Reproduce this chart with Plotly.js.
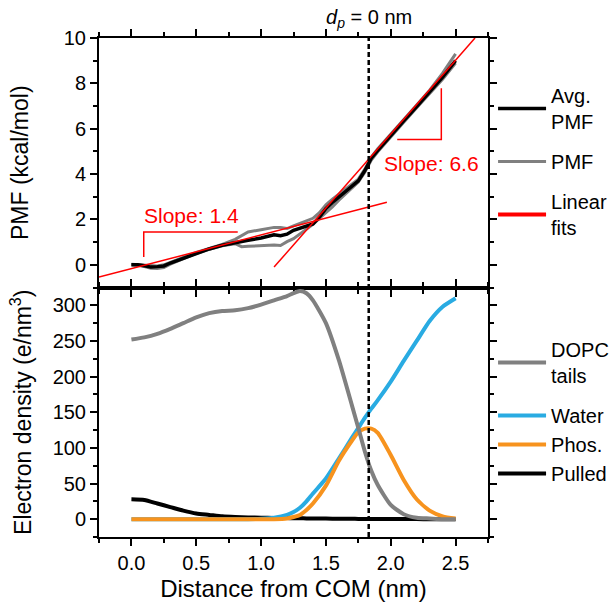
<!DOCTYPE html>
<html>
<head>
<meta charset="utf-8">
<script src="https://cdn.plot.ly/plotly-3.0.1.min.js"></script>
<style>html,body{margin:0;padding:0;background:#fff;}</style>
</head>
<body>
<div id="chart" style="width:613px;height:602px;"></div>
<script>
// ---- PMF panel data ----
const pmfX   = [0,0.05,0.1,0.15,0.2,0.25,0.3,0.4,0.5,0.6,0.7,0.8,0.85,0.9,1.0,1.1,1.15,1.2,1.25,1.3,1.35,1.4,1.45,1.5,1.55,1.6,1.65,1.7,1.75,1.8,1.85,1.9,2.0,2.1,2.2,2.3,2.4,2.5];
const avgPMF = [0.00,0.00,-0.04,-0.10,-0.08,-0.05,0.08,0.30,0.52,0.70,0.86,0.98,1.02,1.08,1.18,1.32,1.28,1.35,1.52,1.62,1.70,1.80,2.10,2.48,2.75,2.98,3.22,3.45,3.70,4.15,4.70,5.05,5.72,6.35,6.98,7.62,8.28,9.00];
const pmfRun1 = [0.02,0.00,-0.02,-0.06,-0.05,0.00,0.12,0.33,0.55,0.73,0.90,1.12,1.30,1.45,1.55,1.65,1.64,1.60,1.72,1.82,1.92,2.05,2.30,2.65,2.90,3.12,3.30,3.52,3.78,4.22,4.75,5.12,5.78,6.40,7.05,7.70,8.45,9.30];
const pmfRun2 = [0.00,-0.02,-0.08,-0.15,-0.16,-0.12,0.03,0.27,0.50,0.68,0.84,0.93,0.80,0.82,0.86,0.87,0.85,1.02,1.15,1.35,1.55,1.78,2.05,2.30,2.55,2.85,3.12,3.40,3.65,4.08,4.62,4.98,5.65,6.28,6.92,7.55,8.18,8.90];
const fitLowX  = [-0.25, 1.97];
const fitLowY  = [-0.54, 2.76];
const fitHighX = [1.10, 2.65];
const fitHighY = [-0.10, 10.0];
const bracketLowX  = [0.095, 0.095, 0.82];
const bracketLowY  = [0.34, 1.45, 1.45];
const bracketHighX = [2.05, 2.39, 2.39];
const bracketHighY = [5.52, 5.52, 7.78];
const slopeLabels = ["Slope: 1.4", "Slope: 6.6"];
const slopeLabelX = [0.46, 2.316];
const slopeLabelY = [2.17, 4.48];
const dpX = 1.83;

// ---- Electron density panel data ----
const densX   = [0,0.1,0.2,0.3,0.4,0.5,0.6,0.7,0.8,0.9,1.0,1.1,1.2,1.25,1.3,1.35,1.4,1.5,1.6,1.7,1.75,1.8,1.85,1.9,2.0,2.1,2.2,2.3,2.4,2.5];
const dopcTails = [252,255,260,267,275,283,289,292,293,296,301,307,313,317,320,317,307,275,223,160,128,95,68,48,20,7,2,1,0,0];
const water     = [0,0,0,0,0,0,0,0,0,0,0.5,2,6,10,16,25,36,57,85,114,128,142,155,167,193,222,250,278,298,310];
const phos      = [0,0,0,0,0,0,0,0,0,0,0,0,1,3,6,13,22,47,82,110,122,127,127,121,90,55,28,12,4,1];
const pulled    = [28,27,22,17,12,8,6,4,3,2.5,2,1.7,1.5,1.4,1.2,1.1,1,0.8,0.6,0.5,0.4,0.4,0.3,0.3,0.2,0.1,0.1,0,0,0];

const xTicks = [0,0.5,1,1.5,2,2.5];
const xTickText = ["0.0","0.5","1.0","1.5","2.0","2.5"];
const pmfTicks = [0,2,4,6,8,10];
const densTicks = [0,50,100,150,200,250,300];

const GRAY = '#808080', RED = '#ff0000', BLUE = '#29abe2', ORANGE = '#f7931e';
const FONT = 'Arial, "Liberation Sans", sans-serif';

const traces = [
  {x: pmfX, y: pmfRun1, xaxis:'x', yaxis:'y', mode:'lines', line:{color:GRAY, width:3}, name:'PMF', legend:'legend', legendgroup:'g2', legendrank:2, hoverinfo:'skip'},
  {x: pmfX, y: pmfRun2, xaxis:'x', yaxis:'y', mode:'lines', line:{color:GRAY, width:3}, showlegend:false, hoverinfo:'skip'},
  {x: pmfX, y: avgPMF, xaxis:'x', yaxis:'y', mode:'lines', line:{color:'#000', width:3.5}, name:'Avg.<br>PMF', legend:'legend', legendgroup:'g1', legendrank:1},
  {x: fitLowX, y: fitLowY, xaxis:'x', yaxis:'y', mode:'lines', line:{color:RED, width:1.5}, showlegend:false, hoverinfo:'skip'},
  {x: fitHighX, y: fitHighY, xaxis:'x', yaxis:'y', mode:'lines', line:{color:RED, width:1.5}, showlegend:false, hoverinfo:'skip'},
  {x: bracketLowX, y: bracketLowY, xaxis:'x', yaxis:'y', mode:'lines', line:{color:RED, width:1.5}, showlegend:false, hoverinfo:'skip'},
  {x: bracketHighX, y: bracketHighY, xaxis:'x', yaxis:'y', mode:'lines', line:{color:RED, width:1.5}, showlegend:false, hoverinfo:'skip'},
  {x: [null], y: [null], xaxis:'x', yaxis:'y', mode:'lines', line:{color:RED, width:4}, name:'Linear<br>fits', legend:'legend', legendgroup:'g3', legendrank:3},

  {x: densX, y: pulled, xaxis:'x2', yaxis:'y2', mode:'lines', line:{color:'#000', width:4, shape:'spline', smoothing:0.6}, name:'Pulled', legend:'legend2', legendgroup:'b', legendrank:4},
  {x: densX, y: water, xaxis:'x2', yaxis:'y2', mode:'lines', line:{color:BLUE, width:4, shape:'spline', smoothing:0.6}, name:'Water', legend:'legend2', legendgroup:'b', legendrank:2},
  {x: densX, y: phos, xaxis:'x2', yaxis:'y2', mode:'lines', line:{color:ORANGE, width:4, shape:'spline', smoothing:0.6}, name:'Phos.', legend:'legend2', legendgroup:'b', legendrank:3},
  {x: densX, y: dopcTails, xaxis:'x2', yaxis:'y2', mode:'lines', line:{color:GRAY, width:4, shape:'spline', smoothing:0.6}, name:'DOPC<br>tails', legend:'legend2', legendgroup:'a', legendrank:1}
];

const axisCommon = {
  showline:true, linecolor:'#000', linewidth:2, mirror:'ticks',
  ticks:'outside', ticklen:7, tickwidth:2, tickcolor:'#000',
  showgrid:false, zeroline:false, automargin:false, tickfont:{family:FONT, size:20, color:'#000'}
};

const layout = {
  width:613, height:602,
  margin:{l:99, r:125, t:38, b:65, autoexpand:false},
  paper_bgcolor:'#fff', plot_bgcolor:'#fff',
  font:{family:FONT, color:'#000'},
  xaxis: Object.assign({}, axisCommon, {anchor:'y', domain:[0,1], range:[-0.25,2.75], tickvals:xTicks, ticktext:xTickText, showticklabels:false,
    minor:{dtick:0.25, tick0:0, ticks:'outside', ticklen:4, tickwidth:2, tickcolor:'#000'}}),
  yaxis: Object.assign({}, axisCommon, {anchor:'x', domain:[0.5,1], range:[-1,10], tickvals:pmfTicks,
    minor:{dtick:1, tick0:0, ticks:'outside', ticklen:4, tickwidth:2, tickcolor:'#000'},
    title:{text:'PMF (kcal/mol)', standoff:29, font:{family:FONT, size:23, color:'#000'}}}),
  xaxis2: Object.assign({}, axisCommon, {anchor:'y2', domain:[0,1], range:[-0.25,2.75], tickvals:xTicks, ticktext:xTickText,
    minor:{dtick:0.25, tick0:0, ticks:'outside', ticklen:4, tickwidth:2, tickcolor:'#000'},
    title:{text:'Distance from COM (nm)', font:{family:FONT, size:24, color:'#000'}}}),
  yaxis2: Object.assign({}, axisCommon, {anchor:'x2', domain:[0,0.5], range:[-25,325], tickvals:densTicks,
    minor:{dtick:25, tick0:0, ticks:'outside', ticklen:4, tickwidth:2, tickcolor:'#000'},
    title:{text:'Electron density (e/nm<sup>3</sup>)', standoff:15, font:{family:FONT, size:23, color:'#000'}}}),
  legend:{x:1.013, xanchor:'left', y:0.924, yanchor:'top', font:{family:FONT, size:20, color:'#000'},
    traceorder:'grouped', tracegroupgap:11, itemwidth:48, bgcolor:'rgba(0,0,0,0)'},
  legend2:{x:1.013, xanchor:'left', y:0.415, yanchor:'top', font:{family:FONT, size:20, color:'#000'},
    traceorder:'grouped', tracegroupgap:11, itemwidth:48, bgcolor:'rgba(0,0,0,0)'},
  shapes:[
    {type:'line', xref:'x', yref:'paper', x0:dpX, x1:dpX, y0:0, y1:1, line:{color:'#000', width:2.5, dash:'5px,3px'}}
  ],
  annotations:[
    {xref:'x', yref:'paper', x:dpX, y:1.04, xanchor:'center', yanchor:'middle', showarrow:false,
      text:'<i>d</i><sub><i>p</i></sub> = 0 nm', font:{family:FONT, size:20, color:'#000'}},
    {xref:'x', yref:'y', x:slopeLabelX[0], y:slopeLabelY[0], xanchor:'center', yanchor:'middle', showarrow:false,
      text:slopeLabels[0], font:{family:FONT, size:21, color:RED}},
    {xref:'x', yref:'y', x:slopeLabelX[1], y:slopeLabelY[1], xanchor:'center', yanchor:'middle', showarrow:false,
      text:slopeLabels[1], font:{family:FONT, size:21, color:RED}}
  ],
  showlegend:true
};

Plotly.newPlot('chart', traces, layout, {displayModeBar:false, staticPlot:true});
</script>
</body>
</html>
